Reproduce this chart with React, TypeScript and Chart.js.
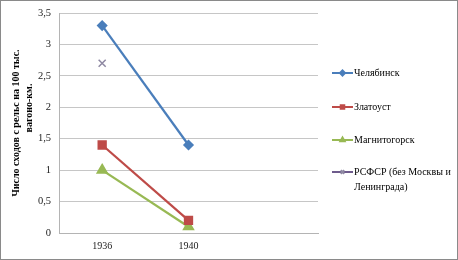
import React, { useEffect, useRef } from "react";
import { Chart, registerables } from "chart.js";
import { drawPoint } from "chart.js/helpers";

Chart.register(...registerables);

const categories = ["1936", "1940", ""];
const seriesNames = ["Челябинск", "Златоуст", "Магнитогорск", "РСФСР (без Москвы и Ленинграда)"];
const legendLines = [["Челябинск"], ["Златоуст"], ["Магнитогорск"], ["РСФСР (без Москвы и", "Ленинграда)"]];
const chelyabinsk = [3.3, 1.4, null];
const zlatoust = [1.4, 0.2, null];
const magnitogorsk = [1.0, 0.1, null];
const rsfsr = [2.7, null, null];
const yTitleLines = ["Число сходов с рельс на 100 тыс.", "вагоно-км."];

const FONT = "'Liberation Serif', 'Times New Roman', serif";

export default function App() {
  const ref = useRef<HTMLCanvasElement>(null);
  useEffect(() => {
    if (!ref.current) return;
    const legendYs = [72, 106, 139, 171];
    const overlay = {
      id: "overlay",
      afterDraw(chart: any) {
        const ctx = chart.ctx;
        ctx.save();
        ctx.fillStyle = "#000";
        ctx.font = `bold 10px ${FONT}`;
        ctx.textAlign = "center";
        ctx.textBaseline = "middle";
        const tpos = [
          [15, 122],
          [28, 107],
        ];
        yTitleLines.forEach((t, i) => {
          ctx.save();
          ctx.translate(tpos[i][0], tpos[i][1]);
          ctx.rotate(-Math.PI / 2);
          ctx.fillText(t, 0, 0);
          ctx.restore();
        });
        chart.data.datasets.forEach((ds: any, i: number) => {
          const y = legendYs[i];
          ctx.strokeStyle = ds.borderColor;
          ctx.lineWidth = 2;
          ctx.beginPath();
          ctx.moveTo(331, y);
          ctx.lineTo(352, y);
          ctx.stroke();
          ctx.fillStyle = ds.pointBackgroundColor;
          ctx.strokeStyle = ds.pointBorderColor;
          drawPoint(ctx, {
            pointStyle: ds.pointStyle,
            radius: 2.5,
            rotation: 0,
            borderWidth: ds.pointBorderWidth ?? 1,
          } as any, 341.5, y);
          ctx.fillStyle = "#000";
          ctx.font = `10px ${FONT}`;
          ctx.textAlign = "left";
          ctx.textBaseline = "middle";
          legendLines[i].forEach((l, j) => ctx.fillText(l, 353, y + j * 15));
        });
        ctx.restore();
      },
    };
    const chart = new Chart(ref.current, {
      type: "line",
      data: {
        labels: categories,
        datasets: [
          {
            label: seriesNames[0],
            data: chelyabinsk,
            borderColor: "#4A7EBB",
            backgroundColor: "#4A7EBB",
            pointBackgroundColor: "#4A7EBB",
            pointBorderColor: "#4A7EBB",
            pointStyle: "rectRot",
            pointRadius: 4,
            borderWidth: 2.25,
          },
          {
            label: seriesNames[1],
            data: zlatoust,
            borderColor: "#BE4B48",
            backgroundColor: "#BE4B48",
            pointBackgroundColor: "#BE4B48",
            pointBorderColor: "#BE4B48",
            pointStyle: "rect",
            pointRadius: 5,
            borderWidth: 2.25,
          },
          {
            label: seriesNames[2],
            data: magnitogorsk,
            borderColor: "#98B954",
            backgroundColor: "#98B954",
            pointBackgroundColor: "#98B954",
            pointBorderColor: "#98B954",
            pointStyle: "triangle",
            pointRadius: 5,
            borderWidth: 2.25,
          },
          {
            label: seriesNames[3],
            data: rsfsr,
            borderColor: "#6E5B8C",
            backgroundColor: "#8E88A2",
            pointBackgroundColor: "#8E88A2",
            pointBorderColor: "#8E88A2",
            pointStyle: "crossRot",
            pointRadius: 5,
            pointBorderWidth: 1.5,
            borderWidth: 2.25,
          },
        ],
      },
      options: {
        animation: false,
        responsive: false,
        maintainAspectRatio: false,
        layout: { padding: { left: 0, right: 139, top: 12, bottom: 0 } },
        plugins: { legend: { display: false }, tooltip: { enabled: false } },
        scales: {
          x: {
            offset: true,
            grid: { display: false, tickLength: 7 },
            border: { display: true, color: "#b4b4b4", width: 1 },
            ticks: { color: "#222", font: { family: FONT, size: 10 }, padding: 0, maxRotation: 0 },
            afterFit: (s: any) => { s.height = 26; },
          },
          y: {
            min: 0,
            max: 3.5,
            grid: { color: "#c6c6c6", lineWidth: 1, drawTicks: false },
            border: { display: true, color: "#b4b4b4", width: 1 },
            ticks: {
              stepSize: 0.5,
              color: "#222",
              font: { family: FONT, size: 10.5, lineHeight: 0.76 },
              padding: 8,
              callback: (v: any) => String(v).replace(".", ","),
            },
            afterFit: (s: any) => { s.width = 58; },
          },
        },
      },
      plugins: [overlay],
    });
    return () => chart.destroy();
  }, []);
  return (
    <div
      style={{
        position: "absolute",
        left: 0,
        top: 0,
        width: 458,
        height: 260,
        boxSizing: "border-box",
        border: "1px solid #8a8a8a",
        background: "#fff",
      }}
    >
      <canvas ref={ref} width={456} height={258} style={{ display: "block", width: 456, height: 258 }} />
    </div>
  );
}
